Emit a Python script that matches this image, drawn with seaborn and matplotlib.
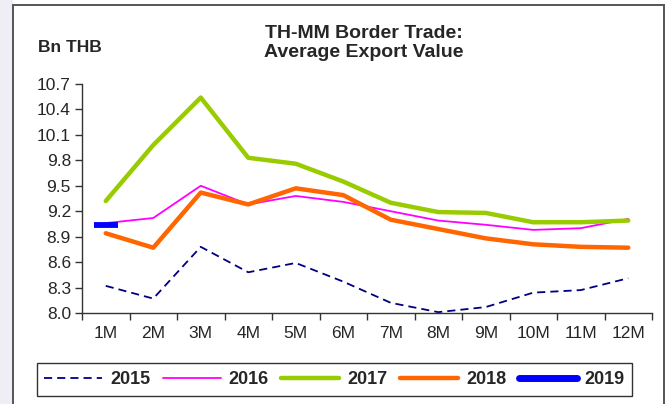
import matplotlib
matplotlib.use("Agg")
import matplotlib.pyplot as plt
from matplotlib.lines import Line2D
from matplotlib.patches import Rectangle
import numpy as np
import pandas as pd
import seaborn as sns

# Monthly average export value, TH-MM border trade (Bn THB)
months = ["1M", "2M", "3M", "4M", "5M", "6M", "7M", "8M", "9M", "10M", "11M", "12M"]
y2015 = [8.32, 8.17, 8.78, 8.48, 8.59, 8.37, 8.12, 8.01, 8.07, 8.24, 8.27, 8.41]
y2016 = [9.06, 9.12, 9.50, 9.28, 9.38, 9.31, 9.20, 9.09, 9.04, 8.98, 9.00, 9.11]
y2017 = [9.32, 9.98, 10.54, 9.83, 9.76, 9.55, 9.30, 9.19, 9.18, 9.07, 9.07, 9.09]
y2018 = [8.94, 8.77, 9.42, 9.28, 9.47, 9.39, 9.10, 8.99, 8.88, 8.81, 8.78, 8.77]
y2019 = [9.04]
yticks = [8.0, 8.3, 8.6, 8.9, 9.2, 9.5, 9.8, 10.1, 10.4, 10.7]

series = {"2015": y2015, "2016": y2016, "2017": y2017, "2018": y2018, "2019": y2019}
rows = []
for year, vals in series.items():
    for i, v in enumerate(vals):
        rows.append({"year": year, "idx": i, "month": months[i], "value": v})
df = pd.DataFrame(rows)

styles = {
    "2015": dict(color="#000080", lw=1.3, ls=(0, (4.5, 2.8))),
    "2016": dict(color="#FF00FF", lw=1.3, ls="-"),
    "2017": dict(color="#99CC00", lw=3.2, ls="-"),
    "2018": dict(color="#FF6600", lw=3.2, ls="-"),
    "2019": dict(color="#0000FF", lw=4.0, ls="-"),
}

sns.set_style("white")
plt.rcParams["font.family"] = ["Liberation Sans", "DejaVu Sans"]

fig = plt.figure(figsize=(6.69, 4.04), dpi=100)
fig.patch.set_facecolor("white")

# slide background strip and chart frame
fig.patches.append(Rectangle((0, 0), 12.5 / 669, 1, transform=fig.transFigure,
                             facecolor="#EEEEF4", edgecolor="none", zorder=0))
fig.patches.append(Rectangle((12.7 / 669, -0.05), (664 - 12.7) / 669, 1.05 - 4.7 / 404,
                             transform=fig.transFigure, facecolor="none",
                             edgecolor="#555555", lw=1.4, zorder=1))

ax = fig.add_axes([82 / 669, 1 - 313 / 404, (652 - 82) / 669, (313 - 84) / 404])
ax.set_facecolor("none")

for year in ["2015", "2016", "2017", "2018"]:
    st = styles[year]
    sub = df[df["year"] == year]
    sns.lineplot(data=sub, x="idx", y="value", ax=ax, color=st["color"],
                 linewidth=st["lw"], linestyle=st["ls"], legend=False, sort=False)

# 2019 has a single month: drawn as a short thick dash
sub19 = df[df["year"] == "2019"]
blue = styles["2019"]["color"]
sns.lineplot(data=sub19, x="idx", y="value", ax=ax, color=blue,
             marker="_", markersize=17, markeredgewidth=4.2, markeredgecolor=blue,
             markerfacecolor=blue, linewidth=0, legend=False)

ax.set_xlim(-0.5, 11.5)
ax.set_ylim(8.0, 10.7)
ax.set_yticks(yticks)
ax.set_yticklabels([f"{t:.1f}" for t in yticks])
ax.set_xticks(np.arange(-0.5, 12.0, 1.0))
ax.set_xticklabels([])
ax.set_xticks(np.arange(12), minor=True)
ax.set_xticklabels(months, minor=True)
ax.tick_params(axis="x", which="major", direction="out", length=5, width=1, color="#333333", bottom=True)
ax.tick_params(axis="x", which="minor", length=0, pad=9, labelsize=12.5)
ax.tick_params(axis="y", direction="out", length=5, width=1, color="#333333", left=True,
               labelsize=12.5, pad=3)
ax.set_xlabel("")
ax.set_ylabel("")
for side in ["top", "right"]:
    ax.spines[side].set_visible(False)
for side in ["left", "bottom"]:
    ax.spines[side].set_color("#333333")
    ax.spines[side].set_linewidth(1.0)

fig.text(364 / 669, 1 - 43 / 404, "TH-MM Border Trade:\nAverage Export Value",
         ha="center", va="center", fontsize=14, fontweight="bold", linespacing=1.1)
fig.text(38 / 669, 1 - 47 / 404, "Bn THB", ha="left", va="center",
         fontsize=12.5, fontweight="bold")

handles = [Line2D([0], [0], color=styles[y]["color"], lw=styles[y]["lw"] + (1 if y == "2019" else 0),
                  ls=styles[y]["ls"], solid_capstyle="round") for y in series]
leg = fig.legend(handles, list(series.keys()), loc="center",
                 bbox_to_anchor=((41 + 628) / 2 / 669, 1 - 379.5 / 404),
                 ncol=5, frameon=True, fancybox=False, handlelength=3.2,
                 handletextpad=0.45, columnspacing=0.7, borderpad=0.42,
                 borderaxespad=0, prop={"weight": "bold", "size": 13})
leg.get_frame().set_edgecolor("black")
leg.get_frame().set_linewidth(1.0)

fig.savefig("out.png", dpi=100, facecolor="white")
